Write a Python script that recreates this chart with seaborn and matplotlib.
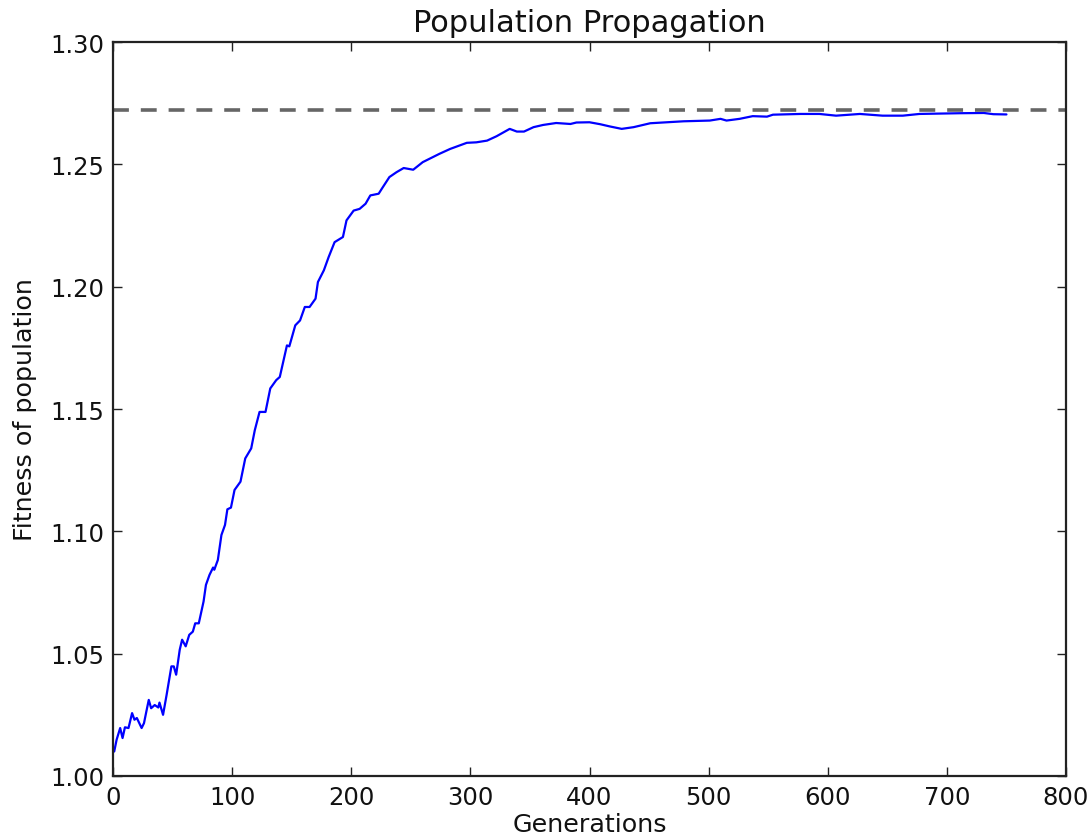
import matplotlib
matplotlib.use("Agg")
import matplotlib.pyplot as plt
import seaborn as sns
import pandas as pd

# Mean fitness of the population per generation
generations = [1, 3, 6, 8, 10, 13, 16, 18, 20, 24, 26, 28, 30, 32, 35, 38, 39, 42, 45,
               49, 51, 53, 56, 58, 61, 64, 67, 69, 72, 76, 78, 81, 84, 85, 88, 91, 94,
               96, 99, 102, 107, 111, 116, 119, 123, 128, 132, 137, 140, 146, 148, 153,
               157, 161, 165, 170, 172, 177, 181, 186, 193, 196, 202, 207, 212, 216, 223,
               226, 232, 238, 244, 252, 260, 274, 283, 297, 305, 314, 322, 333, 339, 345,
               353, 361, 372, 384, 389, 400, 409, 417, 427, 437, 451, 479, 501, 510, 515,
               526, 537, 549, 554, 577, 593, 607, 627, 646, 663, 677, 711, 731, 739, 750]
fitness = [1.0100, 1.0148, 1.0196, 1.0155, 1.0199, 1.0196, 1.0257, 1.0230, 1.0237, 1.0196,
           1.0216, 1.0264, 1.0311, 1.0277, 1.0290, 1.0280, 1.0300, 1.0250, 1.0332, 1.0448,
           1.0448, 1.0414, 1.0516, 1.0557, 1.0530, 1.0577, 1.0590, 1.0624, 1.0624, 1.0713,
           1.0781, 1.0822, 1.0852, 1.0843, 1.0883, 1.0985, 1.1026, 1.1090, 1.1097, 1.1169,
           1.1203, 1.1298, 1.1339, 1.1413, 1.1488, 1.1488, 1.1584, 1.1618, 1.1631, 1.1760,
           1.1756, 1.1842, 1.1862, 1.1917, 1.1917, 1.1951, 1.2019, 1.2067, 1.2121, 1.2182,
           1.2203, 1.2271, 1.2311, 1.2318, 1.2339, 1.2373, 1.2380, 1.2403, 1.2448, 1.2468,
           1.2485, 1.2478, 1.2509, 1.2543, 1.2563, 1.2588, 1.2590, 1.2597, 1.2615, 1.2645,
           1.2634, 1.2634, 1.2652, 1.2661, 1.2669, 1.2665, 1.2671, 1.2672, 1.2664, 1.2655,
           1.2645, 1.2652, 1.2668, 1.2676, 1.2679, 1.2686, 1.2679, 1.2686, 1.2697, 1.2695,
           1.2703, 1.2706, 1.2706, 1.2699, 1.2706, 1.2699, 1.2699, 1.2706, 1.2709, 1.2710,
           1.2705, 1.2704]

# Theoretical maximum fitness
max_fitness = 1.2723

x_ticks = [0, 100, 200, 300, 400, 500, 600, 700, 800]
y_ticks = [1.00, 1.05, 1.10, 1.15, 1.20, 1.25, 1.30]

sns.set_theme(style="white")
plt.rcParams["font.family"] = ["DejaVu Sans"]

df = pd.DataFrame({"Generations": generations, "Fitness": fitness})

fig = plt.figure(figsize=(10.92, 8.37), dpi=100)
ax = fig.add_axes([0.1035, 0.0717, 0.8727, 0.8769])

sns.lineplot(data=df, x="Generations", y="Fitness", ax=ax, color="#0000ff",
             linewidth=1.6, estimator=None, sort=False)
ax.axhline(max_fitness, color="#666666", linewidth=2.6, dashes=(4.4, 3.3))

ax.set_xlim(0, 800)
ax.set_ylim(1.0, 1.3)
ax.set_xticks(x_ticks)
ax.set_yticks(y_ticks)
ax.set_yticklabels([f"{v:.2f}" for v in y_ticks])

for side in ["left", "right", "top", "bottom"]:
    ax.spines[side].set_visible(True)
    ax.spines[side].set_color("#222222")
    ax.spines[side].set_linewidth(1.6)

ax.tick_params(axis="both", which="major", direction="in", length=6.5, width=1,
               color="#222222", labelsize=17.5, labelcolor="#111111",
               top=True, right=True, bottom=True, left=True, pad=6.5)

ax.set_title("Population Propagation", fontsize=22, pad=8, color="#111111")
ax.set_xlabel("Generations", fontsize=18.3, labelpad=2, color="#111111")
ax.set_ylabel("Fitness of population", fontsize=18.3, labelpad=9, color="#111111")

fig.savefig("out.png", dpi=100)
